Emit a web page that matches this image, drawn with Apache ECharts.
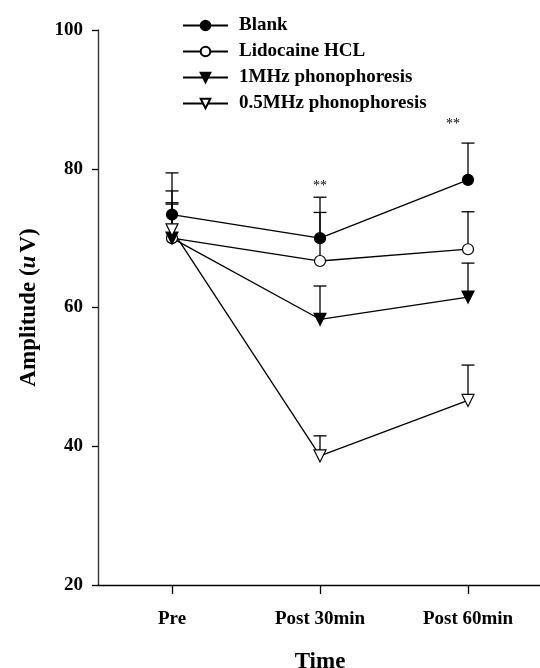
<!DOCTYPE html>
<html>
<head>
<meta charset="utf-8">
<script src="https://cdn.jsdelivr.net/npm/echarts@6/dist/echarts.min.js"></script>
<style>html,body{margin:0;padding:0;background:#fff}#c{width:540px;height:668px}</style>
</head>
<body>
<div id="c"></div>
<script>
const categories = ['Pre', 'Post 30min', 'Post 60min'];
const seriesNames = ['Blank', 'Lidocaine HCL', '1MHz phonophoresis', '0.5MHz phonophoresis'];
const blank = [73.4, 70.0, 78.4];
const blankSD = [6.0, 5.9, 5.3];
const lidocaine = [70.0, 66.7, 68.4];
const lidocaineSD = [6.8, 7.0, 5.4];
const mhz1 = [70.0, 58.3, 61.5];
const mhz1SD = [4.9, 4.8, 4.9];
const mhz05 = [71.2, 38.6, 46.6];
const mhz05SD = [3.9, 2.9, 5.1];
const significance = ['', '**', '**'];
const yMin = 20, yMax = 100, yStep = 20;

const FONT = '"Liberation Serif", "Times New Roman", serif';
// pixel offsets of the significance marks relative to the top of the Blank error bar
const SIG_OFFSETS = [[0, 0], [0, 3], [-15, -5]];
const means = [blank, lidocaine, mhz1, mhz05];
const sds = [blankSD, lidocaineSD, mhz1SD, mhz05SD];
const styles = [
  {symbol: 'circle', rotate: 0, fill: '#000'},
  {symbol: 'circle', rotate: 0, fill: '#fff'},
  {symbol: 'triangle', rotate: 180, fill: '#000'},
  {symbol: 'triangle', rotate: 180, fill: '#fff'}
];

const series = [];
means.forEach((m, k) => {
  series.push({
    type: 'custom',
    name: seriesNames[k] + ' SD',
    data: m.map((v, i) => [i, v, sds[k][i]]),
    z: 1,
    silent: true,
    renderItem: function (params, api) {
      const x = api.value(0), v = api.value(1), s = api.value(2);
      const p0 = api.coord([x, v]);
      const p1 = api.coord([x, v + s]);
      const hw = 6.5;
      const st = {stroke: '#000', lineWidth: 1.3};
      return {type: 'group', children: [
        {type: 'line', shape: {x1: p0[0], y1: p0[1], x2: p1[0], y2: p1[1]}, style: st},
        {type: 'line', shape: {x1: p1[0] - hw, y1: p1[1], x2: p1[0] + hw, y2: p1[1]}, style: st}
      ]};
    }
  });
});
means.forEach((m, k) => {
  const s = styles[k];
  series.push({
    type: 'line',
    name: seriesNames[k],
    data: m,
    z: 3,
    symbol: s.symbol,
    symbolRotate: s.rotate,
    symbolSize: s.symbol === 'circle' ? 11 : 12,
    showAllSymbol: true,
    lineStyle: {color: '#000', width: 1.3},
    itemStyle: {color: s.fill, borderColor: '#000', borderWidth: 1.2},
    emphasis: {disabled: true},
    animation: false
  });
});
series.push({
  type: 'custom',
  name: 'sig',
  silent: true,
  z: 4,
  data: significance.map((t, i) => [i, blank[i] + blankSD[i], t]),
  renderItem: function (params, api) {
    const p = api.coord([api.value(0), api.value(1)]);
    const i = params.dataIndex;
    const off = SIG_OFFSETS[i];
    return {type: 'text', x: p[0] + off[0], y: p[1] - 7 + off[1], style: {text: significance[i], textAlign: 'center', textVerticalAlign: 'bottom', font: '14px ' + FONT, fill: '#000'}};
  }
});

const chart = echarts.init(document.getElementById('c'), null, {renderer: 'canvas'});
chart.setOption({
  animation: false,
  backgroundColor: '#fff',
  grid: {left: 98, top: 30, width: 444, bottom: 83, containLabel: false, outerBoundsMode: 'none'},
  legend: {
    data: seriesNames,
    orient: 'vertical',
    left: 177,
    top: 11,
    itemWidth: 45,
    itemHeight: 12,
    itemGap: 7,
    selectedMode: false,
    textStyle: {fontFamily: FONT, fontWeight: 'bold', fontSize: 19, color: '#000', padding: [0, 0, 0, 6]}
  },
  xAxis: {
    type: 'category',
    data: categories,
    boundaryGap: true,
    axisLine: {lineStyle: {color: '#000', width: 1.4}},
    axisTick: {show: true, alignWithLabel: true, length: 9, lineStyle: {color: '#000', width: 1.3}},
    axisLabel: {margin: 25, fontFamily: FONT, fontWeight: 'bold', fontSize: 19, color: '#000'},
    name: 'Time',
    nameLocation: 'middle',
    nameGap: 66,
    nameTextStyle: {fontFamily: FONT, fontWeight: 'bold', fontSize: 23, color: '#000'},
    splitLine: {show: false}
  },
  yAxis: {
    type: 'value',
    min: yMin,
    max: yMax,
    interval: yStep,
    axisLine: {show: true, lineStyle: {color: '#333', width: 1.4}},
    axisTick: {show: true, length: 6, lineStyle: {color: '#000', width: 1.3}},
    axisLabel: {margin: 15, fontFamily: FONT, fontWeight: 'bold', fontSize: 19, color: '#000'},
    splitLine: {show: false},
    name: 'Amplitude ({i|u}V)',
    nameLocation: 'middle',
    nameGap: 57,
    nameRotate: 90,
    nameTextStyle: {
      fontFamily: FONT, fontWeight: 'bold', fontSize: 23, color: '#000',
      rich: {i: {fontFamily: FONT, fontWeight: 'bold', fontStyle: 'italic', fontSize: 23, color: '#000', padding: [0, 3, 0, 0]}}
    }
  },
  series: series
});
</script>
</body>
</html>
